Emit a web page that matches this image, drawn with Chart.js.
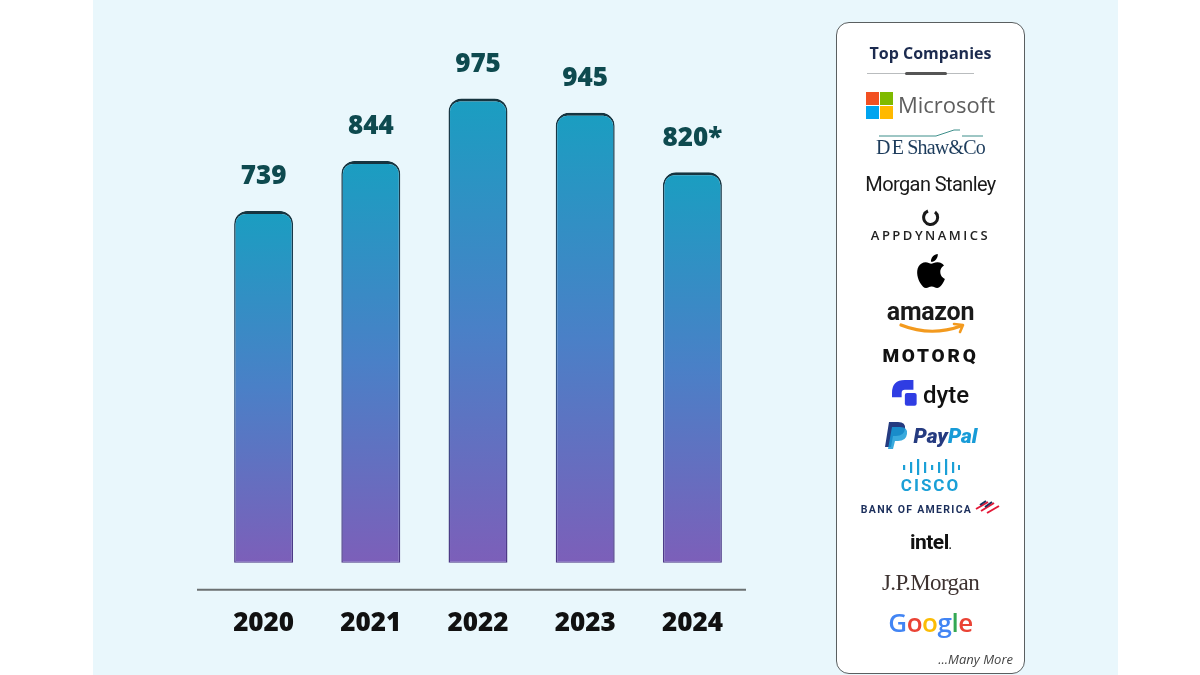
<!DOCTYPE html>
<html>
<head>
<meta charset="utf-8">
<script src="https://cdn.jsdelivr.net/npm/chart.js@4"></script>
<style>
  html, body { margin: 0; padding: 0; background: #ffffff; }
  #wrap { position: relative; width: 1200px; height: 675px; overflow: hidden; font-family: "Open Sans", "Noto Sans", sans-serif; }
  #bg { position: absolute; left: 93px; top: 0; width: 1025px; height: 675px; background: #e9f7fc; }
  #barChart { position: absolute; left: 0; top: 0; }
  #box { position: absolute; left: 836px; top: 22px; width: 187px; height: 650px; background: #ffffff;
         border: 1.5px solid #5a5f60; border-radius: 13px; }
  .row { position: absolute; left: 0; width: 187px; text-align: center; white-space: nowrap; }
  .row svg { vertical-align: middle; }
  .row svg.blk { display: block; margin: 0 auto; }
</style>
</head>
<body>
<div id="wrap">
  <div id="bg"></div>
  <canvas id="barChart" width="1200" height="675"></canvas>

  <!-- company list on the right -->
  <div id="box">
    <div class="row" style="top:19px;font-weight:700;font-size:16px;color:#1c2b4f;">Top Companies</div>
    <div class="row" style="top:48px;height:6px;">
      <div style="position:absolute;left:30px;top:2px;width:107px;height:1px;background:#b9bcbe;"></div>
      <div style="position:absolute;left:68px;top:1px;width:42px;height:3px;border-radius:2px;background:#555;"></div>
    </div>
    <div class="row" style="top:66px;font-size:22px;color:#5e5e5e;line-height:30px;">
      <svg width="27" height="27" viewBox="0 0 27 27" style="margin-right:5px;margin-top:-4px;">
        <rect x="0" y="0" width="13" height="13" fill="#f25022"/>
        <rect x="14" y="0" width="13" height="13" fill="#7fba00"/>
        <rect x="0" y="14" width="13" height="13" fill="#00a4ef"/>
        <rect x="14" y="14" width="13" height="13" fill="#ffb900"/>
      </svg>Microsoft
    </div>
    <div class="row" style="top:106px;height:8px;">
      <svg class="blk" width="106" height="8" viewBox="0 0 106 8">
        <polyline points="1,7 58,7 76,1 82,1" fill="none" stroke="#3c8e8a" stroke-width="1"/>
        <line x1="84" y1="7" x2="105" y2="7" stroke="#3c8e8a" stroke-width="1"/>
      </svg>
    </div>
    <div class="row" style="top:113px;font-family:'Liberation Serif','DejaVu Serif',serif;font-size:20px;color:#1d3c5c;letter-spacing:-0.8px;">D<span style="margin-left:2px;">E</span> Shaw&amp;Co</div>
    <div class="row" style="top:149px;font-family:Roboto,sans-serif;font-size:20px;color:#1a1a1a;letter-spacing:-0.6px;">Morgan Stanley</div>
    <div class="row" style="top:185px;height:20px;">
      <svg class="blk" width="18" height="20" viewBox="0 0 18 20">
        <path d="M6 3 A7 7 0 1 0 13 4" fill="none" stroke="#1a1a1a" stroke-width="3"/>
      </svg>
    </div>
    <div class="row" style="top:203px;font-size:13px;letter-spacing:2.5px;color:#222;font-weight:600;">APPDYNAMICS</div>
    <div class="row" style="top:229px;height:38px;">
      <svg class="blk" width="34" height="38" viewBox="0 0 24 24">
        <path fill="#000" d="M12.152 6.896c-.948 0-2.415-1.078-3.96-1.040-2.04.027-3.91 1.183-4.961 3.014-2.117 3.675-.546 9.103 1.519 12.090 1.013 1.454 2.208 3.090 3.792 3.039 1.520-.065 2.090-.987 3.935-.987 1.831 0 2.350.987 3.960.948 1.637-.026 2.676-1.480 3.676-2.948 1.156-1.688 1.636-3.325 1.662-3.415-.039-.013-3.182-1.221-3.220-4.857-.026-3.040 2.480-4.494 2.597-4.559-1.429-2.090-3.623-2.324-4.390-2.376-2-.156-3.675 1.090-4.610 1.090zM15.530 3.830c.843-1.012 1.400-2.427 1.245-3.830-1.207.052-2.662.805-3.532 1.818-.780.896-1.454 2.338-1.273 3.714 1.338.104 2.715-.688 3.559-1.701"/>
      </svg>
    </div>
    <div class="row" style="top:274px;font-family:Roboto,sans-serif;font-weight:700;font-size:25px;color:#1a1a1a;letter-spacing:-0.3px;line-height:30px;">amazon</div>
    <div class="row" style="top:298px;height:16px;">
      <svg class="blk" width="92" height="16" viewBox="0 0 92 16">
        <path d="M16 4 Q46 16 76 5" fill="none" stroke="#f39a1e" stroke-width="3.2" stroke-linecap="round"/>
        <path d="M69 3 L78 4 L75 11" fill="none" stroke="#f39a1e" stroke-width="2.6" stroke-linecap="round" stroke-linejoin="round"/>
      </svg>
    </div>
    <div class="row" style="top:321px;font-family:Roboto,sans-serif;font-weight:900;font-size:19px;letter-spacing:2.8px;color:#111;">MOTORQ</div>
    <div class="row" style="top:357px;font-family:Roboto,sans-serif;font-weight:500;font-size:24px;color:#111;line-height:30px;">
      <svg width="30" height="30" viewBox="0 0 28 28" style="margin-top:-5px;margin-right:1px;">
        <path d="M0 13 Q0 1 12 1 L20 1 L20 10 L12 10 Q9 10 9 13 L9 17 L0 17 Z" fill="#2f3de3"/>
        <rect x="12" y="13" width="11" height="12" rx="2" fill="#2f3de3"/>
      </svg>dyte
    </div>
    <div class="row" style="top:398px;font-family:Roboto,sans-serif;font-weight:900;font-style:italic;font-size:21px;line-height:30px;">
      <svg width="24" height="28" viewBox="0 0 24 28" style="margin-right:6px;margin-top:-4px;">
        <path d="M5 1 L14 1 Q22 1 21 8 Q20 15 12 15 L9 15 L7 26 L1 26 Z" fill="#253b80"/>
        <path d="M8 6 L16 6 Q24 6 23 13 Q22 20 14 20 L11 20 L9 28 L4 28 Z" fill="#179bd7" opacity="0.85"/>
      </svg><span style="color:#253b80;">Pay</span><span style="color:#179bd7;">Pal</span>
    </div>
    <div class="row" style="top:436px;height:16px;">
      <svg class="blk" width="58" height="16" viewBox="0 0 58 16">
        <rect x="1" y="6" width="2.2" height="5" fill="#1ba0d7"/>
        <rect x="8" y="3" width="2.2" height="11" fill="#1ba0d7"/>
        <rect x="15" y="0" width="2.2" height="16" fill="#1ba0d7"/>
        <rect x="22" y="3" width="2.2" height="11" fill="#1ba0d7"/>
        <rect x="29" y="6" width="2.2" height="5" fill="#1ba0d7"/>
        <rect x="36" y="3" width="2.2" height="11" fill="#1ba0d7"/>
        <rect x="43" y="0" width="2.2" height="16" fill="#1ba0d7"/>
        <rect x="50" y="3" width="2.2" height="11" fill="#1ba0d7"/>
        <rect x="56" y="6" width="2" height="5" fill="#1ba0d7"/>
      </svg>
    </div>
    <div class="row" style="top:452px;font-family:Roboto,sans-serif;font-weight:700;font-size:17px;letter-spacing:2px;color:#1ba0d7;">CISCO</div>
    <div class="row" style="top:480px;font-family:Roboto,sans-serif;font-weight:700;font-size:10.5px;letter-spacing:1.3px;color:#1c2f5c;">
      BANK OF AMERICA<svg width="26" height="14" viewBox="0 0 26 14" style="margin-left:2px;margin-top:-6px;">
        <path d="M2 9 L14 2" stroke="#e31837" stroke-width="2"/>
        <path d="M7 11 L20 3" stroke="#e31837" stroke-width="2"/>
        <path d="M13 13 L25 6" stroke="#e31837" stroke-width="2"/>
        <path d="M6 5 L12 1" stroke="#1c2f5c" stroke-width="2"/>
        <path d="M11 7 L18 2" stroke="#1c2f5c" stroke-width="2"/>
      </svg>
    </div>
    <div class="row" style="top:507px;font-family:Roboto,sans-serif;font-weight:700;font-size:21px;color:#111;letter-spacing:-0.5px;">intel<span style="font-size:10px;">.</span></div>
    <div class="row" style="top:547px;font-family:'Liberation Serif','DejaVu Serif',serif;font-size:23px;color:#3d3230;letter-spacing:-0.6px;">J.P.Morgan</div>
    <div class="row" style="top:582px;font-family:'Open Sans',sans-serif;font-weight:600;font-size:26px;letter-spacing:-0.5px;line-height:34px;">
      <span style="color:#4285f4;">G</span><span style="color:#ea4335;">o</span><span style="color:#fbbc05;">o</span><span style="color:#4285f4;">g</span><span style="color:#34a853;">l</span><span style="color:#ea4335;">e</span>
    </div>
    <div class="row" style="top:627px;text-align:right;width:176px;font-style:italic;font-size:13px;color:#444;">...Many More</div>
  </div>
</div>

<script>
// bar chart: yearly numbers
var years = ["2020", "2021", "2022", "2023", "2024"];
var counts = [739, 844, 975, 945, 820];
var valueLabels = ["739", "844", "975", "945", "820*"];

// gradient per bar, from its top down to zero
function barGradient(ctx, topColor, midColor, bottomColor) {
  var chart = ctx.chart;
  if (!chart.chartArea || ctx.parsed === undefined) return topColor;
  var y = chart.scales.y;
  var g = chart.ctx.createLinearGradient(0, y.getPixelForValue(ctx.parsed.y), 0, y.getPixelForValue(0));
  g.addColorStop(0, topColor);
  g.addColorStop(0.5, midColor);
  g.addColorStop(1, bottomColor);
  return g;
}

// numbers above bars + the base line under them
var extras = {
  id: "extras",
  afterDatasetsDraw: function(chart) {
    var c = chart.ctx;
    var area = chart.chartArea;
    c.save();
    c.strokeStyle = "#6b7172";
    c.lineWidth = 2;
    c.beginPath();
    c.moveTo(area.left - 13, area.bottom);
    c.lineTo(area.right, area.bottom);
    c.stroke();

    c.fillStyle = "#0e4a4f";
    c.font = "800 26px 'Open Sans'";
    c.textAlign = "center";
    c.textBaseline = "middle";
    chart.getDatasetMeta(0).data.forEach(function(bar, i) {
      c.fillText(valueLabels[i], bar.x, bar.y - 34);
    });
    c.restore();
  }
};

var barChart = new Chart(document.getElementById("barChart"), {
  type: "bar",
  data: {
    labels: years,
    datasets: [{
      data: counts,
      backgroundColor: function(ctx) { return barGradient(ctx, "#1a9ec1", "#4a80c7", "#7c5fb9"); },
      borderColor: function(ctx) { return barGradient(ctx, "#16343f", "#2d5a8a", "#4e3886"); },
      borderWidth: { top: 3, left: 1.5, right: 1.5, bottom: 1 },
      borderRadius: { topLeft: 13, topRight: 13 },
      borderSkipped: false,
      barPercentage: 0.55,
      categoryPercentage: 1
    }]
  },
  options: {
    responsive: false,
    animation: false,
    devicePixelRatio: 1,
    layout: { padding: { left: 210, right: 454, top: 40, bottom: 18 } },
    plugins: { legend: { display: false }, tooltip: { enabled: false } },
    scales: {
      x: {
        grid: { display: false, drawTicks: false },
        border: { display: false },
        ticks: { color: "#111", padding: 18, font: { family: "Open Sans", size: 26, weight: "800" } }
      },
      y: {
        display: false,
        min: -57,
        max: 1098
      }
    }
  },
  plugins: [extras]
});
</script>
</body>
</html>
